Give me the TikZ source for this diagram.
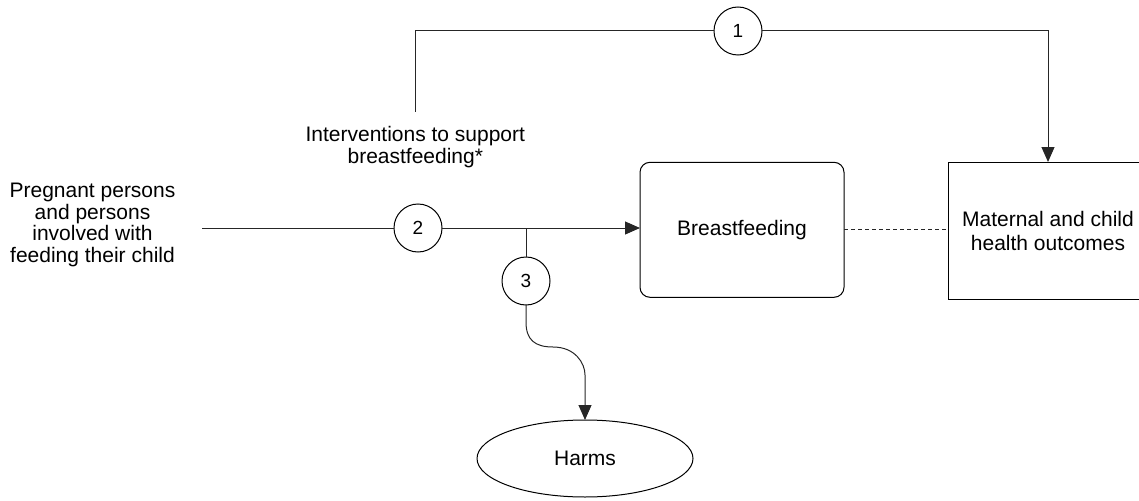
\documentclass[tikz,border=0pt]{standalone}
\usepackage{fontspec}
\setmainfont{Liberation Sans}
\usetikzlibrary{arrows.meta,shapes.geometric}
\tikzset{
  every node/.style={inner sep=0pt, outer sep=0pt},
  txt/.style={align=center, font=\fontsize{21}{21.7}\selectfont},
  numcirc/.style={draw, circle, line width=1pt, minimum size=48pt, font=\fontsize{19}{20}\selectfont},
  conn/.style={line width=1pt, draw=black!85},
  arr/.style={conn, -{Triangle[length=15pt,width=13pt]}},
  rbox/.style={draw, line width=1pt, rounded corners=10pt, minimum width=204pt, minimum height=135pt, align=center, font=\fontsize{21}{21.7}\selectfont},
  sbox/.style={draw, line width=1pt, minimum width=200pt, minimum height=137pt, align=center, font=\fontsize{21}{24}\selectfont},
  oval/.style={draw, ellipse, line width=1pt, minimum width=216pt, minimum height=77pt, font=\fontsize{21}{21.7}\selectfont}
}
\begin{document}
\begin{tikzpicture}[x=1pt,y=-1pt]
\useasboundingbox (0,0) rectangle (1139,500);
% nodes
\node[txt] (pp) at (92.5,225) {Pregnant persons\\and persons\\involved with\\feeding their child};
\node[txt] (iv) at (415.3,147.2) {Interventions to support\\breastfeeding*};
\node[numcirc] (c1) at (738,31) {1};
\node[numcirc] (c2) at (418,228) {2};
\node[numcirc] (c3) at (526,281) {3};
\node[rbox] (bf) at (742,229.8) {Breastfeeding};
\node[sbox] (mc) at (1048,230.5) {Maternal and child\\health outcomes};
\node[oval] (hm) at (585,458.5) {Harms};
% coordinates
\coordinate (start) at (202,228);
\coordinate (ivtop) at (415,112);
\coordinate (br) at (526,228);
% connectors
\draw[conn] (ivtop) |- (c1.west);
\draw[arr] (c1.east) -| (mc.north);
\draw[conn] (start) -- (c2.west);
\draw[arr] (c2.east) -- (c2.east -| bf.west);
\draw[conn] (br) -- (c3.north);
\draw[arr] (c3.south) -- ++(0,17) .. controls +(0,18) and +(-18,0) .. ++(27,25) .. controls +(22,0) and +(0,-12) .. ++(32,28) -- (hm.north);
\draw[conn, dash pattern=on 4pt off 3pt] (bf.east) -- (mc.west |- bf.east);
\end{tikzpicture}
\end{document}
